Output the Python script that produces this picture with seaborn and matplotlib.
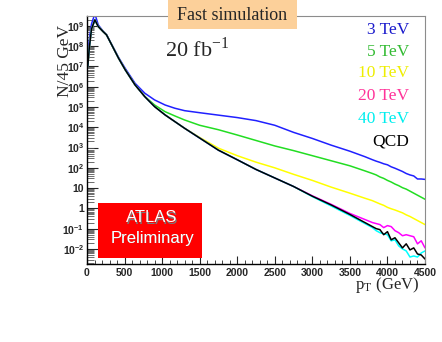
import matplotlib
matplotlib.use("Agg")
import matplotlib.pyplot as plt
import matplotlib.ticker as mticker
from matplotlib.patches import Rectangle
import seaborn as sns
import numpy as np

# pT bin centres (GeV) and log10(N/45 GeV)
pt = [10, 30, 60, 105, 150, 215, 260, 330, 420, 510, 640, 770, 900, 1040,
      1170, 1300, 1500, 1750, 2000, 2250, 2500, 2750, 3000, 3250, 3500, 3700,
      3800, 3850, 3900, 3950, 4000, 4050, 4100, 4150, 4200, 4250, 4300, 4350,
      4400, 4450, 4500]

log_qcd = [7.0, 7.9, 8.85, 9.3, 8.97, 8.72, 8.56, 8.06, 7.41, 6.83, 6.09, 5.51,
           5.02, 4.61, 4.28, 3.95, 3.47, 2.87, 2.4, 1.92, 1.5, 1.08, 0.6, 0.17,
           -0.3, -0.7, -0.9, -1.0, -1.05, -1.3, -1.15, -1.55, -1.45, -1.7,
           -1.95, -1.75, -2.05, -1.95, -2.25, -2.3, -2.5]
log_3tev = [7.4, 8.3, 9.1, 9.6, 9.05, 8.74, 8.57, 8.08, 7.45, 6.9, 6.17, 5.68,
            5.35, 5.1, 4.94, 4.82, 4.72, 4.6, 4.48, 4.33, 4.1, 3.75, 3.45, 3.12,
            2.82, 2.55, 2.4, 2.33, 2.27, 2.2, 2.15, 2.05, 1.98, 1.9, 1.82, 1.72,
            1.65, 1.6, 1.45, 1.45, 1.43]
log_5tev = [7.0, 7.9, 8.85, 9.3, 8.97, 8.72, 8.56, 8.06, 7.41, 6.83, 6.09, 5.52,
            5.1, 4.77, 4.56, 4.36, 4.1, 3.88, 3.62, 3.35, 3.08, 2.85, 2.6, 2.35,
            2.1, 1.85, 1.72, 1.65, 1.55, 1.48, 1.38, 1.3, 1.2, 1.12, 1.02, 0.95,
            0.85, 0.75, 0.65, 0.55, 0.45]
log_10tev = [7.0, 7.9, 8.85, 9.3, 8.97, 8.72, 8.56, 8.06, 7.41, 6.83, 6.09,
             5.51, 5.02, 4.61, 4.28, 3.95, 3.5, 2.97, 2.6, 2.28, 2.0, 1.68,
             1.38, 1.05, 0.75, 0.5, 0.38, 0.3, 0.22, 0.15, 0.05, -0.02, -0.08,
             -0.15, -0.22, -0.32, -0.4, -0.5, -0.6, -0.7, -0.8]
log_20tev = [7.0, 7.9, 8.85, 9.3, 8.97, 8.72, 8.56, 8.06, 7.41, 6.83, 6.09,
             5.51, 5.02, 4.61, 4.28, 3.95, 3.47, 2.87, 2.4, 1.92, 1.5, 1.08,
             0.62, 0.2, -0.25, -0.55, -0.7, -0.75, -0.8, -0.95, -0.85, -0.9,
             -1.1, -1.2, -1.35, -1.3, -1.35, -1.4, -1.75, -1.6, -1.95]
log_40tev = [7.0, 7.9, 8.85, 9.3, 8.97, 8.72, 8.56, 8.06, 7.41, 6.83, 6.09,
             5.51, 5.02, 4.61, 4.28, 3.95, 3.47, 2.87, 2.4, 1.92, 1.5, 1.08,
             0.58, 0.12, -0.35, -0.75, -0.95, -1.1, -1.2, -1.25, -1.3, -1.6,
             -1.55, -1.85, -2.0, -2.1, -2.4, -2.35, -2.4, -2.2, -2.1]

labels = ["3 TeV", "5 TeV", "10 TeV", "20 TeV", "40 TeV", "QCD"]
line_colors = ["#2020ff", "#22dd22", "#ffff00", "#ff00ff", "#00ffff", "black"]
text_colors = ["#1a1acc", "#33bb33", "#eeee00", "#ff3399", "#00eeee", "black"]

ytick_vals = [1e-2, 1e-1, 1, 10, 1e2, 1e3, 1e4, 1e5, 1e6, 1e7, 1e8, 1e9]
ytick_labels = [r"$10^{-2}$", r"$10^{-1}$", "1", "10", r"$10^{2}$", r"$10^{3}$",
                r"$10^{4}$", r"$10^{5}$", r"$10^{6}$", r"$10^{7}$", r"$10^{8}$",
                r"$10^{9}$"]

sns.set_style("ticks")
plt.rcParams['font.family'] = ['Liberation Sans', 'DejaVu Sans']
plt.rcParams['mathtext.fontset'] = 'custom'
plt.rcParams['mathtext.rm'] = 'Liberation Sans:bold'
plt.rcParams['mathtext.it'] = 'Liberation Sans:bold'
plt.rcParams['mathtext.bf'] = 'Liberation Sans:bold'

fig = plt.figure(figsize=(4.42, 3.42), dpi=100)
ax = fig.add_axes([87 / 442, 1 - 264 / 342, 338 / 442, 248 / 342])

series = [log_3tev, log_5tev, log_10tev, log_20tev, log_40tev, log_qcd]
# QCD drawn last so it sits on top of the signals it coincides with
for vals, col in zip(series, line_colors):
    sns.lineplot(x=pt, y=10 ** np.array(vals), color=col, lw=1.1, ax=ax,
                 estimator=None, sort=False)

ax.set_yscale("log")
ax.set_xlim(0, 4500)
ax.set_ylim(1.8e-3, 3.1e9)

ax.yaxis.set_major_locator(mticker.FixedLocator(ytick_vals))
ax.yaxis.set_major_formatter(mticker.FixedFormatter(ytick_labels))
ax.yaxis.set_minor_locator(mticker.LogLocator(base=10, subs=np.arange(2, 10), numticks=30))
ax.yaxis.set_minor_formatter(mticker.NullFormatter())
ax.xaxis.set_major_locator(mticker.MultipleLocator(500))
ax.xaxis.set_minor_locator(mticker.MultipleLocator(100))

ax.tick_params(axis="y", which="major", direction="in", length=8, width=0.8,
               pad=2, labelsize=7.5)
ax.tick_params(axis="y", which="minor", direction="in", length=5, width=0.6,
               color="#555555")
ax.tick_params(axis="x", which="major", direction="in", length=6, width=0.8,
               pad=3, labelsize=7.5)
ax.tick_params(axis="x", which="minor", direction="in", length=3, width=0.6)
for lab in ax.get_xticklabels() + ax.get_yticklabels():
    lab.set_fontweight("bold")

for side in ["top", "right"]:
    ax.spines[side].set_visible(True)
    ax.spines[side].set_color("#8c8c8c")
for side in ["left", "bottom"]:
    ax.spines[side].set_color("black")
    ax.spines[side].set_linewidth(1.0)

ax.set_xlabel("")
ax.set_ylabel("")
serif = ['Liberation Serif', 'DejaVu Serif']
fig.text(65 / 442, 1 - 25 / 342, "N/45 GeV", rotation=90, ha="center", va="top",
         fontsize=12.5, family=serif)
fig.text(419 / 442, 1 - 285 / 342, r"p$_{\mathregular{T}}$ (GeV)", ha="right",
         va="center", fontsize=12, family=serif,
         math_fontfamily="stix")

# legend as coloured text
legend_y = [30, 52, 73, 96, 119, 142]
for lab, col, yy in zip(labels, text_colors, legend_y):
    fig.text(409 / 442, 1 - yy / 342, lab, color=col, ha="right", va="center",
             fontsize=12.5, family=serif)

fig.text(165 / 442, 1 - 50 / 342, r"20 fb$^{\mathregular{-1}}$", ha="left",
         va="center", fontsize=16, family=serif, math_fontfamily="stix")

# "Fast simulation" banner
fig.patches.append(Rectangle((168 / 442, 1 - 29 / 342), 129 / 442, 29 / 342,
                             transform=fig.transFigure, facecolor="#fcd09a",
                             edgecolor="none", zorder=5))
fig.text(232 / 442, 1 - 15 / 342, "Fast simulation", ha="center", va="center",
         fontsize=13, family=serif, zorder=6)

# ATLAS Preliminary box
fig.patches.append(Rectangle((98 / 442, 1 - 258 / 342), 104 / 442, 55 / 342,
                             transform=fig.transFigure, facecolor="#ff0000",
                             edgecolor="none", zorder=5))
for txt, yy in [("ATLAS", 218), ("Preliminary", 238)]:
    fig.text(153 / 442, 1 - (yy + 1) / 342, txt, ha="center", va="center",
             fontsize=12, color="#7a7a7a", zorder=6)
    fig.text(152 / 442, 1 - yy / 342, txt, ha="center", va="center",
             fontsize=12, color="white", zorder=7)

fig.savefig("out.png", dpi=100)
